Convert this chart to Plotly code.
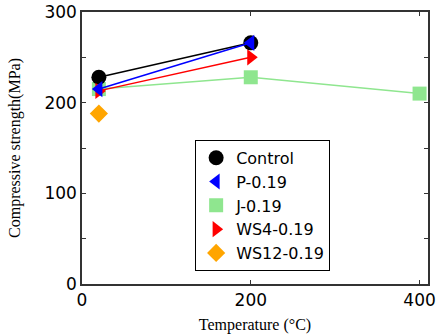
import plotly.graph_objects as go

names = ["Control", "P-0.19", "J-0.19", "WS4-0.19", "WS12-0.19"]
temps = [[20, 200], [20, 200], [20, 200, 400], [20, 200], [20]]
strength = [[228, 266], [215, 266], [215, 228, 210], [213, 250], [188]]
colors = ["black", "blue", "#8fe68f", "red", "orange"]
symbols = ["circle", "triangle-left", "square", "triangle-right", "diamond"]
sizes = [15, 14, 14, 14, 14]

x_ticks = [0, 200, 400]
y_ticks = [0, 100, 200, 300]

fig = go.Figure()
order = [2, 0, 3, 1, 4]
for i in order:
    fig.add_trace(go.Scatter(
        x=temps[i], y=strength[i], mode="lines+markers", showlegend=False,
        line=dict(color=colors[i], width=1.5),
        marker=dict(symbol=symbols[i], color=colors[i], size=sizes[i]),
    ))
for i in range(len(names)):
    fig.add_trace(go.Scatter(
        x=[None], y=[None], mode="markers", name=names[i],
        marker=dict(symbol=symbols[i], color=colors[i], size=sizes[i]),
    ))

axis_common = dict(
    showgrid=False, zeroline=False, showline=True, linecolor="#333", linewidth=1.5,
    mirror="ticks", ticks="inside", ticklen=4, tickcolor="#333", automargin=False,
    ticklabeloverflow="allow",
    tickfont=dict(family="DejaVu Sans", size=17, color="black"),
)
title_font = dict(family="Liberation Serif, Times New Roman", size=16, color="black")
fig.update_xaxes(range=[0, 410], tickvals=x_ticks, **axis_common,
                 title=dict(text="Temperature (°C)", font=title_font, standoff=10))
fig.update_yaxes(range=[0, 300], tickvals=y_ticks, **axis_common,
                 minor=dict(tickvals=[50, 150, 250], ticks="inside", ticklen=4, tickcolor="#333"),
                 title=dict(text="Compressive strength(MPa)", font=title_font, standoff=20))
fig.update_layout(
    width=438, height=336,
    margin=dict(l=82, r=10, t=12, b=52),
    paper_bgcolor="white", plot_bgcolor="white",
    legend=dict(x=0.327, y=0.53, xanchor="left", yanchor="top",
                bgcolor="white", bordercolor="black", borderwidth=1,
                font=dict(family="DejaVu Sans", size=16, color="black"),
                tracegroupgap=0, itemwidth=30),
)
fig.write_html("out.html")
